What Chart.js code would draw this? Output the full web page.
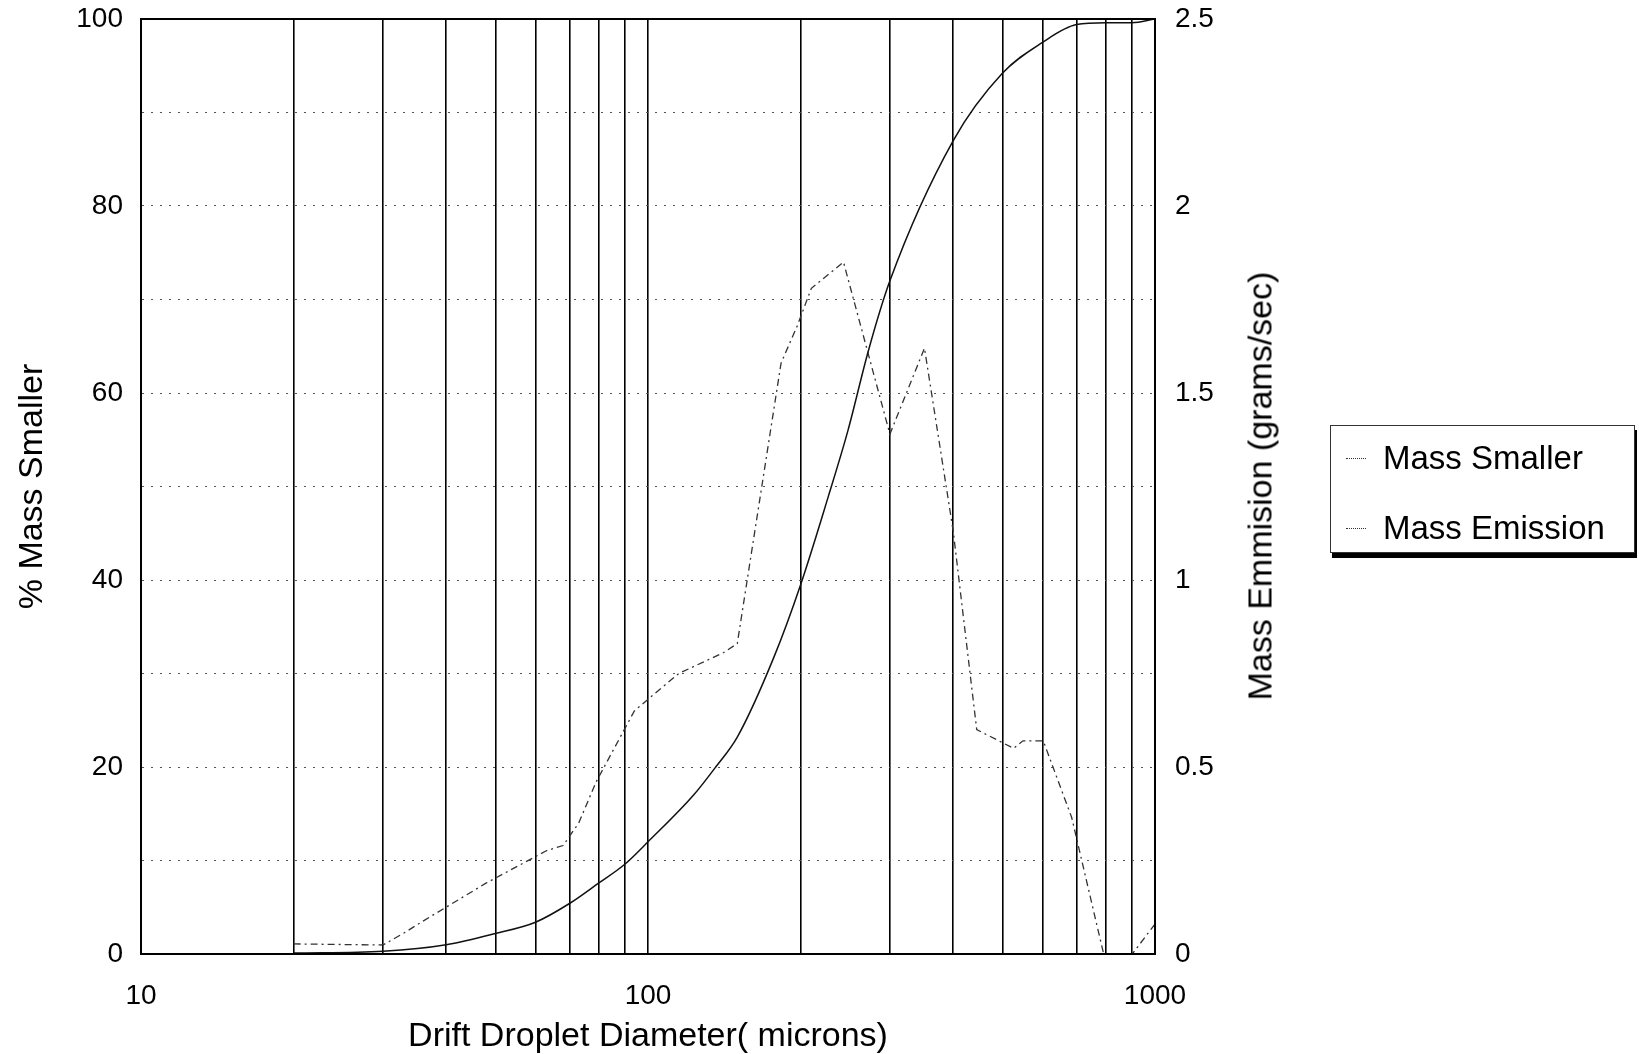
<!DOCTYPE html>
<html>
<head>
<meta charset="utf-8">
<title>Drift Droplet Diameter</title>
<script src="https://cdn.jsdelivr.net/npm/chart.js@4.4.1/dist/chart.umd.min.js"></script>
<style>
  html, body { margin: 0; padding: 0; background: #fff; }
  #wrap { position: relative; width: 1639px; height: 1054px; }
  #legend {
    position: absolute; left: 1330px; top: 425px; width: 303px; height: 126px;
    border: 1.5px solid #333; background: #fff; box-shadow: 2px 5px 0 #000;
    font-family: "Liberation Sans", Arial, sans-serif; font-size: 33px; color: #000;
  }
  .item { position: absolute; left: 0; height: 40px; line-height: 40px; }
  .item span.sample { position: absolute; left: 15px; top: 20px; width: 20px; border-top: 1.5px dotted #333; }
  .item span.label { position: absolute; left: 52px; white-space: nowrap; }
  #rtitle {
    position: absolute; left: 1260px; top: 486px; white-space: nowrap;
    transform: translate(-50%, -50%) rotate(-90deg);
    font-family: "Liberation Sans", Arial, sans-serif; font-size: 34px; color: #000;
  }
</style>
</head>
<body>
<div id="wrap">
  <canvas id="chart" width="1639" height="1054"></canvas>
  <div id="rtitle">Mass Emmision (grams/sec)</div>
  <div id="legend">
    <div class="item" style="top:12px"><span class="sample"></span><span class="label">Mass Smaller</span></div>
    <div class="item" style="top:82px"><span class="sample"></span><span class="label">Mass Emission</span></div>
  </div>
</div>
<script>
// diametres (microns) et valeurs
const massSmallerDiam = [20, 30, 40, 50, 60, 70, 80, 90, 100, 123, 136, 150, 177, 200, 227, 248, 272, 300, 400, 500, 600, 700, 800, 900, 1000];
const massSmallerPct = [0.1, 0.3, 1.0, 2.2, 3.4, 5.4, 7.6, 9.6, 12, 17, 20, 23.2, 31.7, 39.5, 49, 56, 64.5, 72, 87, 94.2, 97.5, 99.4, 99.6, 99.6, 100];

const emissionDiam = [20, 30, 33, 36, 48, 63, 68, 73, 79, 85, 94, 106, 115, 141, 150, 183, 197, 210, 243, 300, 351, 400, 445, 526, 549, 602, 685, 792, 902, 1000];
const emissionGs = [0.027, 0.024, 0.056, 0.088, 0.19, 0.276, 0.29, 0.35, 0.46, 0.54, 0.65, 0.71, 0.75, 0.806, 0.83, 1.58, 1.68, 1.78, 1.85, 1.39, 1.62, 1.13, 0.60, 0.55, 0.57, 0.57, 0.365, 0.0, 0.0, 0.08];

const xGridValues = [10, 20, 30, 40, 50, 60, 70, 80, 90, 100, 200, 300, 400, 500, 600, 700, 800, 900, 1000];
const xTickLabels = [10, 100, 1000];

const FONT = "'Liberation Sans', Arial, sans-serif";

function toPoints(xs, ys) {
  return xs.map((x, i) => ({ x: x, y: ys[i] }));
}

// cadre complet autour de la zone du graphique
const frame = {
  id: 'frame',
  afterDraw(chart) {
    const a = chart.chartArea;
    const ctx = chart.ctx;
    ctx.save();
    ctx.strokeStyle = '#000';
    ctx.lineWidth = 2;
    ctx.strokeRect(a.left, a.top, a.right - a.left, a.bottom - a.top);
    ctx.restore();
  }
};

new Chart(document.getElementById('chart'), {
  type: 'line',
  data: {
    datasets: [{
      label: 'Mass Smaller',
      data: toPoints(massSmallerDiam, massSmallerPct),
      yAxisID: 'y',
      borderColor: '#111',
      borderWidth: 1.5,
      pointRadius: 0,
      cubicInterpolationMode: 'monotone',
      fill: false
    }, {
      label: 'Mass Emission',
      data: toPoints(emissionDiam, emissionGs),
      yAxisID: 'y1',
      borderColor: '#333',
      borderWidth: 1.3,
      borderDash: [7, 4, 2, 4],
      pointRadius: 0,
      tension: 0,
      fill: false
    }]
  },
  options: {
    responsive: false,
    animation: false,
    layout: { padding: { left: 16, right: 360, top: 19, bottom: 0 } },
    plugins: {
      legend: { display: false },
      tooltip: { enabled: false }
    },
    scales: {
      x: {
        type: 'logarithmic',
        min: 10,
        max: 1000,
        afterBuildTicks(scale) {
          scale.ticks = xGridValues.map(v => ({ value: v }));
        },
        afterFit(scale) { scale.height = 100; },
        ticks: {
          autoSkip: false,
          maxRotation: 0,
          padding: 25,
          color: '#000',
          font: { family: FONT, size: 28 },
          callback: v => xTickLabels.includes(v) ? String(v) : ''
        },
        grid: { color: '#000', lineWidth: 1.6, drawTicks: false },
        border: { display: true, color: '#000', width: 2 },
        title: {
          display: true,
          text: 'Drift Droplet Diameter( microns)',
          color: '#000',
          font: { family: FONT, size: 34, lineHeight: 1 },
          padding: 0
        }
      },
      y: {
        position: 'left',
        min: 0,
        max: 100,
        afterFit(scale) { scale.width = 125; scale.paddingTop = 0; scale.paddingBottom = 0; },
        ticks: {
          stepSize: 10,
          padding: 18,
          color: '#000',
          font: { family: FONT, size: 28 },
          callback: v => v % 20 === 0 ? v : ''
        },
        grid: { color: '#555', lineWidth: 1, drawTicks: false },
        border: { display: true, color: '#000', width: 2, dash: [2, 7] },
        title: {
          display: true,
          text: '% Mass Smaller',
          color: '#000',
          font: { family: FONT, size: 34, lineHeight: 1 },
          padding: 0
        }
      },
      y1: {
        position: 'right',
        min: 0,
        max: 2.5,
        afterFit(scale) { scale.width = 124; scale.paddingTop = 0; scale.paddingBottom = 0; },
        ticks: {
          stepSize: 0.5,
          padding: 20,
          color: '#000',
          font: { family: FONT, size: 28 },
          callback: v => String(+v.toFixed(1))
        },
        grid: { display: false, drawTicks: false },
        border: { display: true, color: '#000', width: 2 }
      }
    }
  },
  plugins: [frame]
});
</script>
</body>
</html>
